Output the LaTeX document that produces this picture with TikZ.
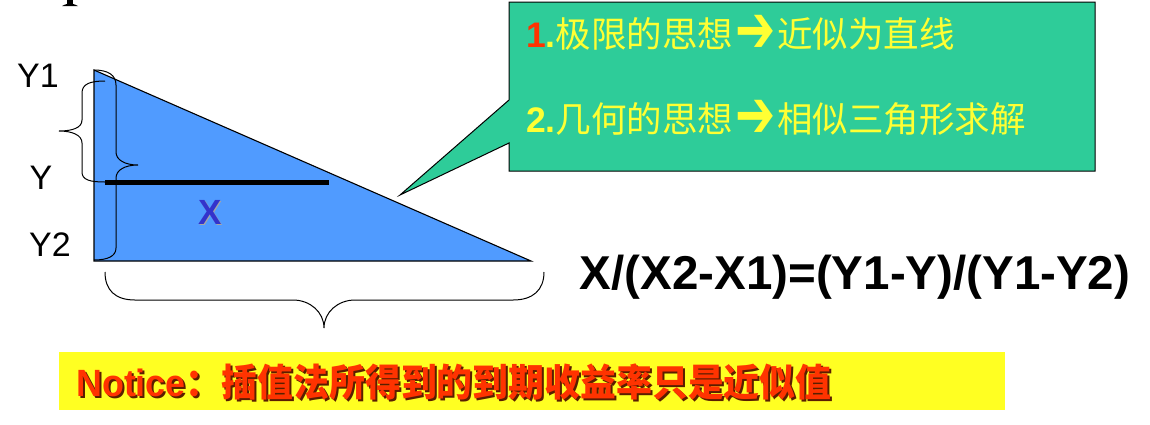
\documentclass[tikz,border=0pt]{standalone}
\usepackage{fontspec}
\setmainfont{Liberation Sans}
\newfontfamily\cjk{Noto Sans CJK SC}
\newfontfamily\dejavu{DejaVu Sans}
\definecolor{triblue}{RGB}{80,155,255}
\definecolor{calloutgreen}{RGB}{46,204,153}
\definecolor{txtyellow}{RGB}{255,255,51}
\definecolor{numred}{RGB}{255,51,0}
\definecolor{noteyellow}{RGB}{255,255,34}
\definecolor{notered}{RGB}{255,51,0}
\definecolor{noteshadow}{RGB}{90,30,0}
\definecolor{xblue}{RGB}{51,51,204}
\newcommand{\bigarrow}{\hspace{2pt}\raisebox{-5pt}{\scalebox{1.35}[1.9]{\dejavu\bfseries ➔}}\hspace{2pt}}
\tikzset{
  lbl/.style={inner sep=0pt, font=\fontsize{34}{36}\selectfont},
  bracepath/.style={draw=black, line width=1pt},
  callouttxt/.style={inner sep=0pt, anchor=west, text=txtyellow, font=\fontsize{35.5}{38}\selectfont},
}
\begin{document}
\begin{tikzpicture}[x=1pt,y=-1pt]
\useasboundingbox (0,0) rectangle (1150,424);
% partial glyph at top
\fill (67,0) rectangle (73,4);
\fill (62,6) .. controls (66,4) and (68,3.5) .. (70,3.5) .. controls (72,3.5) and (74,4) .. (78,6) -- cycle;
% triangle
\filldraw[fill=triblue, draw=black, line width=1.1pt] (94,70) -- (94,261) -- (531,261) -- cycle;
% thick line
\draw[line width=5pt] (105,182) -- (329,182);
% braces
\draw[bracepath] (105,81) .. controls (90,81) and (82,84) .. (82,93) -- (82,120)
  .. controls (82,128) and (72,131) .. (59,131) .. controls (72,131) and (82,135) .. (82,143)
  -- (82,172) .. controls (82,180) and (90,182) .. (105,182);
\draw[bracepath] (94,70) .. controls (108,70) and (116,75) .. (116,85) -- (116,152)
  .. controls (116,160) and (125,165) .. (138,165) .. controls (125,165) and (116,170) .. (116,178)
  -- (116,248) .. controls (116,256) and (108,260) .. (94,260);
\draw[bracepath] (105,272) .. controls (105,290) and (115,300) .. (135,300) -- (293,300)
  .. controls (310,300) and (324,312) .. (324,328) .. controls (324,312) and (338,300) .. (355,300)
  -- (513,300) .. controls (533,300) and (544,290) .. (544,272);
% labels
\node[lbl] (y1) at (38,76) {Y1};
\node[lbl] (y) at (41,178) {Y};
\node[lbl] (y2) at (50,245) {Y2};
\node[inner sep=0pt, text=black!35, font=\bfseries\fontsize{35}{36}\selectfont] (xs) at (211.5,213.5) {X};
\node[inner sep=0pt, text=xblue, font=\bfseries\fontsize{35}{36}\selectfont] (x) at (210,212) {X};
% callout
\filldraw[fill=calloutgreen, draw=black, line width=1pt] (509,2) -- (1095,2) -- (1095,171) -- (509,171) -- (509,143) -- (400,195) -- (509,100) -- cycle;
\node[callouttxt] (l1) at (526,34) {{\bfseries\color{numred}1}{\bfseries.}{\cjk 极限的思想}\bigarrow{\cjk 近似为直线}};
\node[callouttxt] (l2) at (526,119) {{\bfseries 2.}{\cjk 几何的思想}\bigarrow{\cjk 相似三角形求解}};
% formula
\node[inner sep=0pt, font=\bfseries\fontsize{47.5}{50}\selectfont] (f) at (855,277) {X/(X2-X1)=(Y1-Y)/(Y1-Y2)};
% notice box
\fill[noteyellow] (59,352) rectangle (1005,410);
\node[inner sep=0pt, anchor=west, text=noteshadow, font=\bfseries\fontsize{38}{40}\selectfont] (ns) at (78,384) {\scalebox{0.944}[1]{Notice{\cjk\bfseries ：插值法所得到的到期收益率只是近似值}}};
\node[inner sep=0pt, anchor=west, text=notered, font=\bfseries\fontsize{38}{40}\selectfont] (n) at (76,382) {\scalebox{0.944}[1]{Notice{\cjk\bfseries ：插值法所得到的到期收益率只是近似值}}};
\end{tikzpicture}
\end{document}
